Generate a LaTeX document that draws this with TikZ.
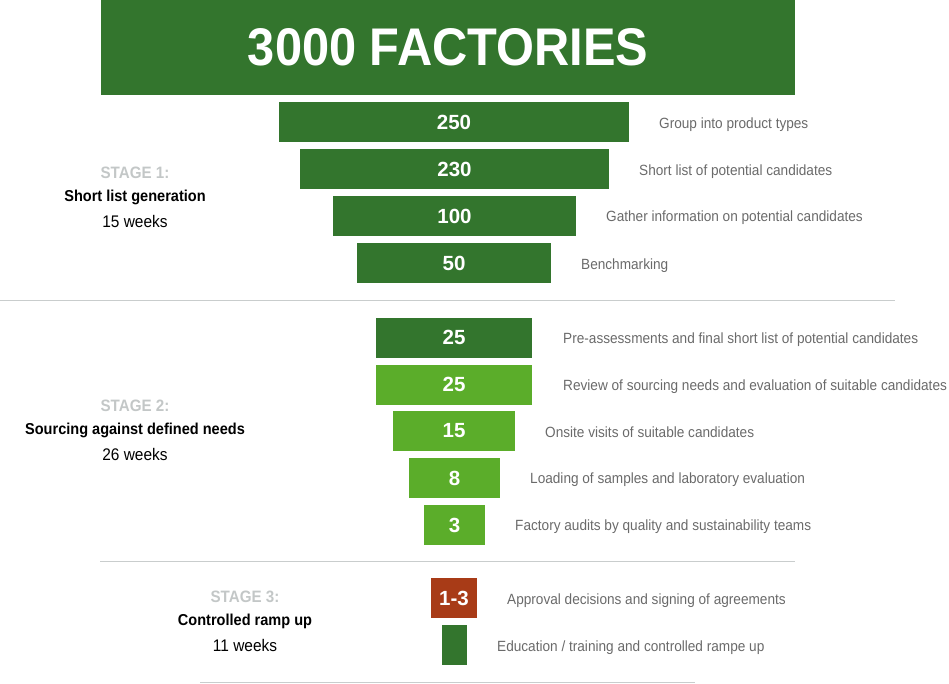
\documentclass[tikz,border=0pt]{standalone}
\usepackage{fontspec}
\setmainfont{Liberation Sans}[FakeStretch=0.92]
\newfontfamily\numfont{Liberation Sans}
\usetikzlibrary{positioning}
\definecolor{fgreen}{HTML}{33752D}
\definecolor{lgreen}{HTML}{5BAD2A}
\definecolor{rust}{HTML}{A83B17}
\definecolor{txtgray}{HTML}{6A6A6A}
\definecolor{stgray}{HTML}{C3C7C7}
\definecolor{rule}{HTML}{C9CDCD}

\tikzset{
  bar/.style={fill=fgreen, text=white, minimum height=40, inner sep=0,
    font=\numfont\fontsize{20.5}{22}\selectfont\bfseries},
  lbar/.style={bar, fill=lgreen},
  lbl/.style={anchor=west, inner sep=0, yshift=-1.5pt, text=txtgray,
    font=\fontsize{14.8}{17}\selectfont},
  stagehd/.style={inner sep=0, text=stgray, font=\fontsize{16.5}{18}\selectfont\bfseries},
  stagename/.style={inner sep=0, text=black, font=\fontsize{15.8}{18}\selectfont\bfseries},
  stagetime/.style={inner sep=0, text=black, font=\fontsize{16.8}{18}\selectfont},
  sep/.style={rule, line width=1pt}
}

\begin{document}
\begin{tikzpicture}[x=1pt, y=-1pt]
\useasboundingbox (0,0) rectangle (949,683);

% Title banner
\node[fill=fgreen, text=white, minimum width=694, minimum height=95, inner sep=0,
  font=\fontsize{53}{56}\selectfont\bfseries] (title) at (448,47.5) {3000 FACTORIES};

% Stage 1 bars
\node[bar, minimum width=350] (b250) at (454,122) {250};
\node[bar, minimum width=309] (b230) at (454.5,169) {230};
\node[bar, minimum width=243] (b100) at (454.5,216) {100};
\node[bar, minimum width=194] (b50) at (454,263) {50};

\node[lbl] (l250) at (659,123) {Group into product types};
\node[lbl] (l230) at (639,170) {Short list of potential candidates};
\node[lbl] (l100) at (606,216) {Gather information on potential candidates};
\node[lbl] (l50) at (581,264) {Benchmarking};

% Stage 1 text
\node[stagehd] (s1) at (135,173) {STAGE 1:};
\node[stagename] (s1n) at (135,197) {Short list generation};
\node[stagetime] (s1t) at (135,221) {15 weeks};

\draw[sep] (0,300) -- (895,300);

% Stage 2 bars
\node[bar, minimum width=156] (b25a) at (454,337.5) {25};
\node[lbar, minimum width=156] (b25b) at (454,384.5) {25};
\node[lbar, minimum width=122] (b15) at (454,431) {15};
\node[lbar, minimum width=91] (b8) at (454.5,478) {8};
\node[lbar, minimum width=61] (b3) at (454.5,525) {3};

\node[lbl] (l25a) at (563,338) {Pre-assessments and final short list of potential candidates};
\node[lbl] (l25b) at (563,385) {Review of sourcing needs and evaluation of suitable candidates};
\node[lbl] (l15) at (545,431) {Onsite visits of suitable candidates};
\node[lbl] (l8) at (530,478) {Loading of samples and laboratory evaluation};
\node[lbl] (l3) at (515,525) {Factory audits by quality and sustainability teams};

% Stage 2 text
\node[stagehd] (s2) at (135,406) {STAGE 2:};
\node[stagename] (s2n) at (135,430) {Sourcing against defined needs};
\node[stagetime] (s2t) at (135,454) {26 weeks};

\draw[sep] (100,561) -- (795,561);

% Stage 3 boxes
\node[bar, fill=rust, minimum width=46] (b13) at (454,598) {1-3};
\node[bar, minimum width=25] (bed) at (454.5,645) {};

\node[lbl] (l13) at (507,599) {Approval decisions and signing of agreements};
\node[lbl] (led) at (497,646) {Education / training and controlled rampe up};

% Stage 3 text
\node[stagehd] (s3) at (245,597) {STAGE 3:};
\node[stagename] (s3n) at (245,621) {Controlled ramp up};
\node[stagetime] (s3t) at (245,645) {11 weeks};

\draw[sep] (200,682) -- (695,682);

\end{tikzpicture}
\end{document}
